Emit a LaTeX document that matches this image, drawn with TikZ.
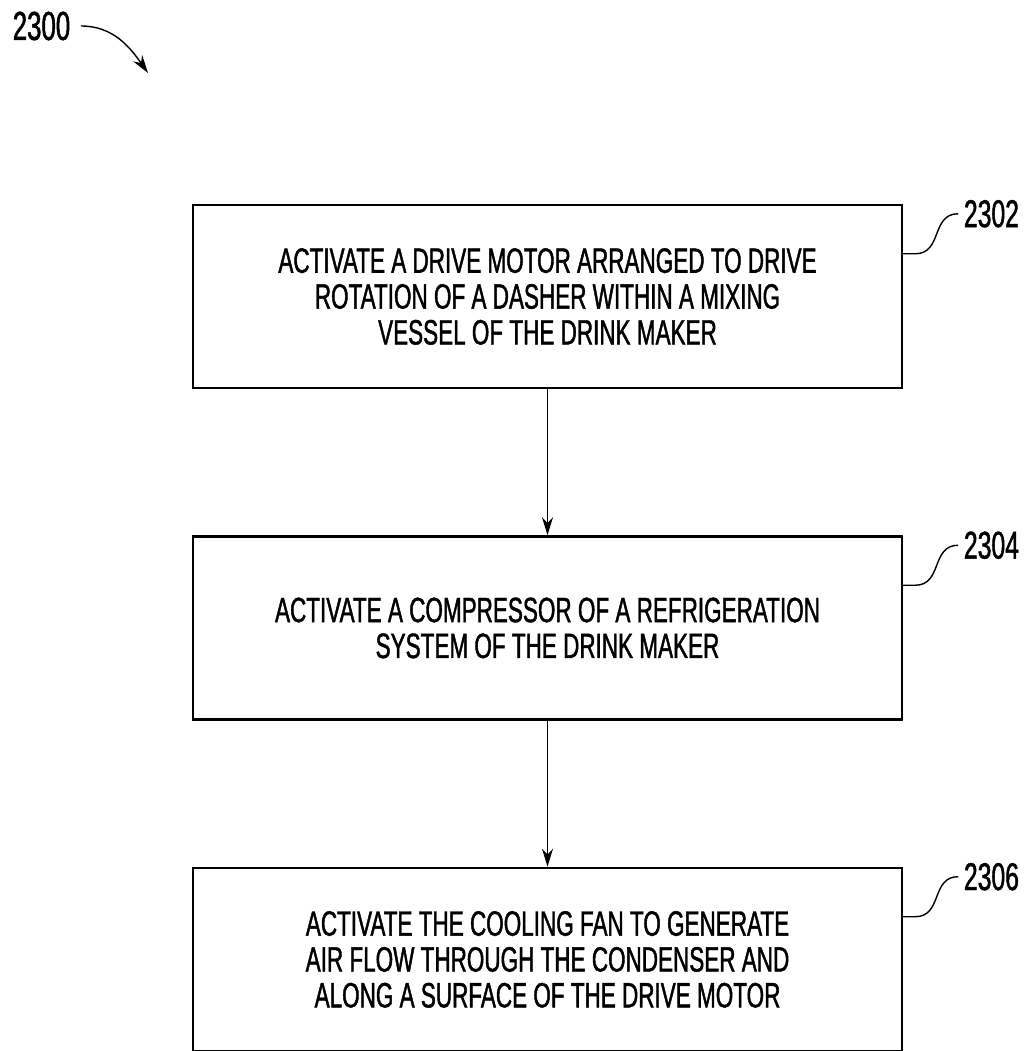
\documentclass[tikz,border=0pt]{standalone}
\usepackage{fontspec}
\setmainfont[FakeStretch=0.64,FakeBold=1.2]{Liberation Sans}
\usepackage{tikz}
\usetikzlibrary{arrows.meta,positioning,calc}

\begin{document}
\begin{tikzpicture}[font=\fontsize{10}{10.2}\selectfont, node distance=1.46cm,
  stepbox/.style={draw, line width=0.7pt, minimum width=7.09cm, minimum height=1.83cm, align=center, inner sep=0pt},
  refnum/.style={anchor=west, inner sep=0pt, font=\fontsize{11}{11}\selectfont},
  flow/.style={-{Stealth[length=1.8mm,width=1.1mm]}, thin}]
\useasboundingbox (0,0) rectangle (10.28,-10.51);
\node[stepbox] (s1) at (5.475,-2.965) {ACTIVATE A DRIVE MOTOR ARRANGED TO DRIVE\\ROTATION OF A DASHER WITHIN A MIXING\\VESSEL OF THE DRINK MAKER};
\node[stepbox, below=of s1] (s2) {ACTIVATE A COMPRESSOR OF A REFRIGERATION\\SYSTEM OF THE DRINK MAKER};
\node[stepbox, below=of s2] (s3) {ACTIVATE THE COOLING FAN TO GENERATE\\AIR FLOW THROUGH THE CONDENSER AND\\ALONG A SURFACE OF THE DRIVE MOTOR};
\draw[flow] (s1) -- (s2);
\draw[flow] (s2) -- (s3);
% reference numerals
\node[refnum] (n1) at ($(s1.north east)+(0.6,-0.1)$) {2302};
\node[refnum] (n2) at ($(s2.north east)+(0.6,-0.1)$) {2304};
\node[refnum] (n3) at ($(s3.north east)+(0.6,-0.1)$) {2306};
\draw[thin] ($(s1.north east)+(0,-0.5)$) -- ++(0.12,0) to[out=0, in=180, looseness=1.2] ($(n1.west)+(-0.05,0)$);
\draw[thin] ($(s2.north east)+(0,-0.5)$) -- ++(0.12,0) to[out=0, in=180, looseness=1.2] ($(n2.west)+(-0.05,0)$);
\draw[thin] ($(s3.north east)+(0,-0.5)$) -- ++(0.12,0) to[out=0, in=180, looseness=1.2] ($(n3.west)+(-0.05,0)$);
\node[refnum, font=\fontsize{11.5}{11.5}\selectfont] (fig) at (0.12,-0.26) {2300};
\coordinate (figtip) at (1.48,-0.73);
\draw[thin, -{Stealth[length=1.8mm,width=1.1mm]}] ($(fig.east)+(0.1,0)$) to[out=0, in=125] (figtip);
\end{tikzpicture}
\end{document}
